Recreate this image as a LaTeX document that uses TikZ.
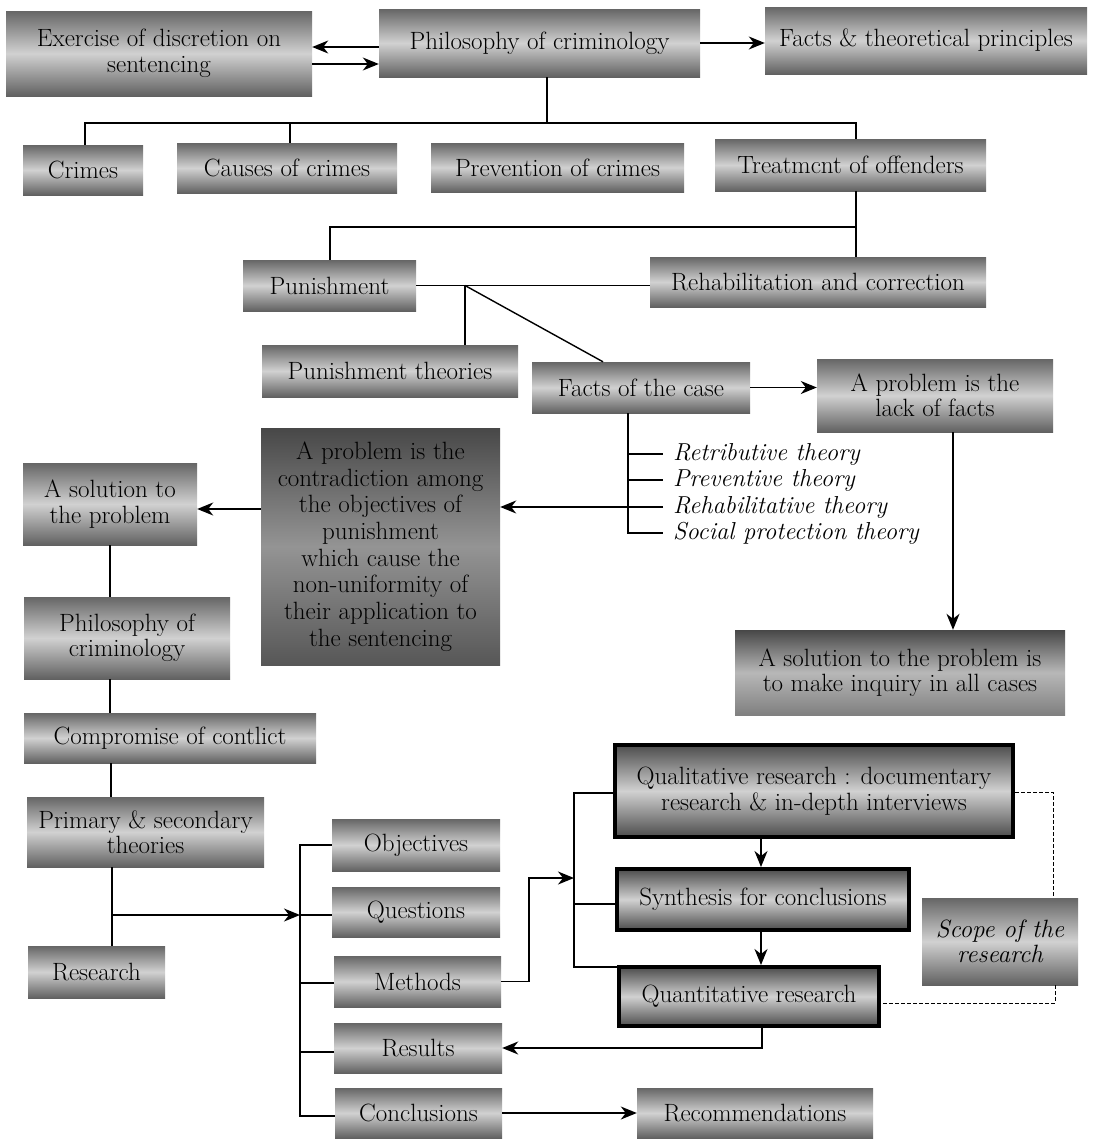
\documentclass[tikz,border=0pt]{standalone}
\usetikzlibrary{arrows.meta}
\begin{document}
\begin{tikzpicture}[x=1pt,y=-1pt,
  box/.style={top color=black!60, bottom color=black!62, middle color=black!18, inner sep=0pt, align=center, font=\fontsize{25}{25.5}\selectfont},
  darkbox/.style={box, top color=black!72, bottom color=black!66, middle color=black!42},
  thickbox/.style={box, draw=black, line width=4pt, top color=black!70, bottom color=black!70, middle color=black!18},
  ln/.style={line width=1.4pt},
  arr/.style={ln, -{Stealth[length=16pt,width=13pt,inset=5pt]}},
  dsh/.style={line width=1pt, dash pattern=on 4pt off 2pt},
  theo/.style={anchor=west, inner xsep=10pt, inner ysep=0pt, font=\fontsize{24.5}{26}\selectfont\itshape}]
\useasboundingbox (0,0) rectangle (1097,1146);

% ---- boxes ----
\node[box, minimum width=306, minimum height=85] (exer) at (159,53.5) {Exercise of discretion on\\sentencing};
\node[box, minimum width=321, minimum height=68] (phil) at (539.5,43) {Philosophy of criminology};
\node[box, minimum width=322, minimum height=67] (facts) at (926,40.5) {Facts \& theoretical principles};
\node[box, minimum width=120, minimum height=50] (crimes) at (83,170) {Crimes};
\node[box, minimum width=220, minimum height=50] (causes) at (287,168) {Causes of crimes};
\node[box, minimum width=253, minimum height=49] (prev) at (557.5,167.5) {Prevention of crimes};
\node[box, minimum width=271, minimum height=52] (treat) at (850.5,165) {Treatmcnt of offenders};
\node[box, minimum width=173, minimum height=51] (pun) at (329.5,285.5) {Punishment};
\node[box, minimum width=336, minimum height=50] (rehab) at (818,282) {Rehabilitation and correction};
\node[box, minimum width=256, minimum height=52] (puntheo) at (390,371) {Punishment theories};
\node[box, minimum width=218, minimum height=51] (factscase) at (641,387.5) {Facts of the case};
\node[box, minimum width=236, minimum height=73] (lack) at (935,395.5) {A problem is the\\lack of facts};
\node[darkbox, minimum width=239, minimum height=237, font=\fontsize{25}{26.7}\selectfont] (contra) at (380.5,546.5)
  {A problem is the\\contradiction among\\the objectives of\\punishment\\which cause the\\non-uniformity of\\their application to\\the sentencing};
\node[box, minimum width=174, minimum height=82] (sol) at (110,504) {A solution to\\the problem};
\node[box, top color=black!72, bottom color=black!50, middle color=black!28, minimum width=330, minimum height=85] (inquiry) at (900,672.5) {A solution to the problem is\\to make inquiry in all cases};
\node[box, minimum width=206, minimum height=82] (phil2) at (127,638) {Philosophy of\\criminology};
\node[box, minimum width=292, minimum height=50] (comp) at (170,738) {Compromise of contlict};
\node[box, minimum width=237, minimum height=70] (prim) at (145.5,832) {Primary \& secondary\\theories};
\node[box, minimum width=137, minimum height=52] (research) at (96.5,972) {Research};
\node[box, minimum width=168, minimum height=52] (obj) at (416,845) {Objectives};
\node[box, minimum width=168, minimum height=50] (ques) at (416,912) {Questions};
\node[box, minimum width=167, minimum height=51] (meth) at (417.5,981.5) {Methods};
\node[box, minimum width=168, minimum height=50] (res) at (418,1048) {Results};
\node[box, minimum width=167, minimum height=50] (concl) at (418.5,1113) {Conclusions};
\node[thickbox, minimum width=398, minimum height=92] (qual) at (814,791) {Qualitative research : documentary\\research \& in-depth interviews};
\node[thickbox, minimum width=292, minimum height=61] (synth) at (763,899.5) {Synthesis for conclusions};
\node[thickbox, minimum width=260, minimum height=59] (quant) at (749,996.5) {Quantitative research};
\node[box, minimum width=156, minimum height=87, font=\fontsize{25}{25.5}\selectfont\itshape] (scope) at (1000,941.5) {Scope of the\\research};
\node[box, minimum width=236, minimum height=50] (recom) at (755,1113) {Recommendations};

% ---- theories list ----
\node[theo] (th1) at (663,454) {Retributive theory};
\node[theo] (th2) at (663,480) {Preventive theory};
\node[theo] (th3) at (663,507) {Rehabilitative theory};
\node[theo] (th4) at (663,533) {Social protection theory};

% ---- connectors ----
\draw[arr] (phil.west |- 0,47) -- (exer.east |- 0,47);
\draw[arr] (exer.east |- 0,64) -- (phil.west |- 0,64);
\draw[arr] (phil.east) -- (facts.west |- phil.east);

\coordinate (j1) at (547,123);
\draw[ln] (phil.south -| j1) -- (j1);
\draw[ln] (crimes.north -| 85,0) -- (85,123) -- (856,123) -- (treat.north -| 856,0);
\draw[ln] (causes.north -| 290,0) -- (290,123);

\coordinate (j3) at (856,227);
\draw[ln] (treat.south -| j3) -- (rehab.north -| j3);
\draw[ln] (j3) -- (330,227) -- (pun.north -| 330,0);

\coordinate (j2) at (465,285.5);
\draw[ln] (pun.east) -- (rehab.west |- pun.east);
\draw[ln] (j2) -- (puntheo.north -| j2);
\draw[ln] (j2) -- (factscase.north -| 603,0);
\draw[arr] (factscase.east) -- (lack.west |- factscase.east);

\coordinate (tb) at (628,533);
\draw[ln] (factscase.south -| tb) -- (tb) -- (th4.west);
\draw[ln] (628,454) -- (th1.west);
\draw[ln] (628,480) -- (th2.west);
\draw[arr] (th3.west) -- (contra.east |- th3.west);

\draw[arr] (lack.south -| 953,0) -- (inquiry.north -| 953,0);
\draw[arr] (contra.west |- 0,509) -- (sol.east |- 0,509);

\draw[ln] (sol.south -| 110,0) -- (phil2.north -| 110,0);
\draw[ln] (phil2.south -| 110,0) -- (comp.north -| 110,0);
\draw[ln] (comp.south -| 111,0) -- (prim.north -| 111,0);
\draw[ln] (prim.south -| 112,0) -- (research.north -| 112,0);

\coordinate (b1) at (300,915);
\draw[arr] (112,915) -- (b1);
\draw[ln] (obj.west) -- (300,845) -- (300,1116) -- (concl.west |- 0,1116);
\draw[ln] (b1) -- (ques.west |- b1);
\draw[ln] (300,983) -- (meth.west |- 0,983);
\draw[ln] (300,1052) -- (res.west |- 0,1052);

\coordinate (b2) at (574,878);
\draw[arr] (meth.east) -- (529,981.5) -- (529,878) -- (b2);
\draw[ln] (qual.west |- 0,793) -- (574,793) -- (574,967) -- (quant.west |- 0,967);
\draw[ln] (574,904) -- (synth.west |- 0,904);

\draw[arr] (qual.south -| 761,0) -- (synth.north -| 761,0);
\draw[arr] (synth.south -| 761,0) -- (quant.north -| 761,0);
\draw[arr] (quant.south -| 762,0) -- (762,1048) -- (res.east |- 0,1048);
\draw[arr] (concl.east) -- (recom.west |- concl.east);

\draw[dsh] (qual.east |- 0,792) -- (1053,792) -- (scope.north -| 1053,0);
\draw[dsh] (scope.south -| 1055,0) -- (1055,1003) -- (quant.east |- 0,1003);
\end{tikzpicture}
\end{document}
